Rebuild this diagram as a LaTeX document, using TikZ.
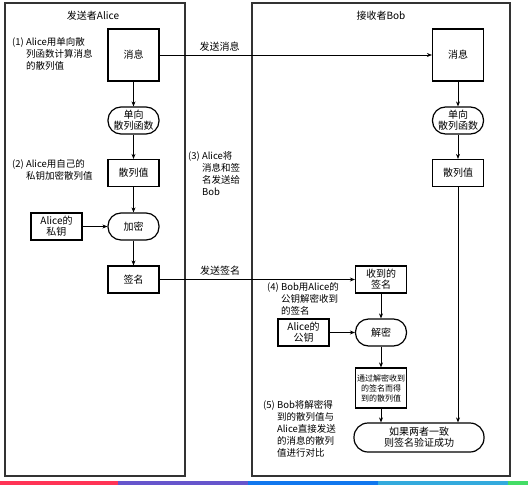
\documentclass[tikz,border=0pt]{standalone}
\usepackage{fontspec}
\setmainfont{Noto Sans CJK SC}
\usetikzlibrary{arrows.meta}
\definecolor{barred}{HTML}{FF3355}
\definecolor{barpurple}{HTML}{6655CC}
\definecolor{barblue}{HTML}{1177EE}
\definecolor{barcyan}{HTML}{33AADD}
\definecolor{bargreen}{HTML}{44DD66}
\begin{document}
\begin{tikzpicture}[x=1pt, y=-1pt, font=\fontsize{10}{11}\selectfont,
    box/.style={rectangle, draw, line width=1.2pt, minimum width=51pt, minimum height=27pt, inner sep=1pt, align=center},
    stadium/.style={box, rounded corners=13pt},
    note/.style={font=\fontsize{9.5}{12}\selectfont, inner sep=0pt, anchor=north west},
    panel/.style={draw=black!80, line width=1.2pt},
    flow/.style={-{Stealth[length=5pt, width=4pt]}, line width=1pt}]
    \useasboundingbox (0,0) rectangle (528,485);

    % two panels
    \draw[panel] (5,3) rectangle (185,476);
    \draw[panel] (252,3) rectangle (510,476);
    \node (titleA) at (93,16) {发送者Alice};
    \node (titleB) at (381,16) {接收者Bob};

    % sender side
    \node[box, minimum height=52pt] (msgA) at (133.5,55) {消息};
    \node[stadium] (hashfA) at (133.5,120.5) {单向\\散列函数};
    \node[box] (hashA) at (133.5,173) {散列值};
    \node[stadium] (encA) at (133.5,226.5) {加密};
    \node[box] (privkey) at (56.5,226.5) {Alice的\\私钥};
    \node[box] (sigA) at (133.5,279.5) {签名};

    % receiver side
    \node[box, minimum height=52pt] (msgB) at (458,55) {消息};
    \node[stadium] (hashfB) at (458,120.5) {单向\\散列函数};
    \node[box] (hashB) at (458,173) {散列值};
    \node[box] (sigB) at (381,279.5) {收到的\\签名};
    \node[box] (pubkey) at (303.5,332.5) {Alice的\\公钥};
    \node[stadium] (decB) at (381,332.5) {解密};
    \node[box, minimum height=40pt, font=\fontsize{8}{10}\selectfont] (hashD) at (381,388) {通过解密收到\\的签名而得\\到的散列值};
    \node[stadium, minimum width=130pt, minimum height=29pt, rounded corners=14pt] (result) at (419,437.5) {如果两者一致\\则签名验证成功};

    % notes
    \node[note] (note1) at (12,37) {\begin{tabular}{@{}l@{ }l@{}}(1)&Alice用单向散\\&列函数计算消息\\&的散列值\end{tabular}};
    \node[note] (note2) at (12,159) {\begin{tabular}{@{}l@{ }l@{}}(2)&Alice用自己的\\&私钥加密散列值\end{tabular}};
    \node[note] (note3) at (188,151) {\begin{tabular}{@{}l@{ }l@{}}(3)&Alice将\\&消息和签\\&名发送给\\&Bob\end{tabular}};
    \node[note] (note4) at (267,282) {\begin{tabular}{@{}l@{ }l@{}}(4)&Bob用Alice的\\&公钥解密收到\\&的签名\end{tabular}};
    \node[note] (note5) at (263,400) {\begin{tabular}{@{}l@{ }l@{}}(5)&Bob将解密得\\&到的散列值与\\&Alice直接发送\\&的消息的散列\\&值进行对比\end{tabular}};

    \draw[flow] (msgA) -- (hashfA);
    \draw[flow] (hashfA) -- (hashA);
    \draw[flow] (hashA) -- (encA);
    \draw[flow] (privkey) -- (encA);
    \draw[flow] (encA) -- (sigA);
    \draw[flow] (msgA) -- node[pos=0.22, above] {发送消息} (msgB);
    \draw[flow] (msgB) -- (hashfB);
    \draw[flow] (hashfB) -- (hashB);
    \draw[flow] (hashB) -- (hashB |- result.north);
    \draw[flow] (sigA) -- node[pos=0.31, above] {发送签名} (sigB);
    \draw[flow] (sigB) -- (decB);
    \draw[flow] (pubkey) -- (decB);
    \draw[flow] (decB) -- (hashD);
    \draw[flow] (hashD.south) -- (hashD.south |- result.north);

    % colour strip at the bottom
    \fill[barred] (0,481) rectangle (118,485);
    \fill[barpurple] (118,481) rectangle (248,485);
    \fill[barblue] (248,481) rectangle (378,485);
    \fill[barcyan] (378,481) rectangle (508,485);
    \fill[bargreen] (508,481) rectangle (528,485);
\end{tikzpicture}
\end{document}
